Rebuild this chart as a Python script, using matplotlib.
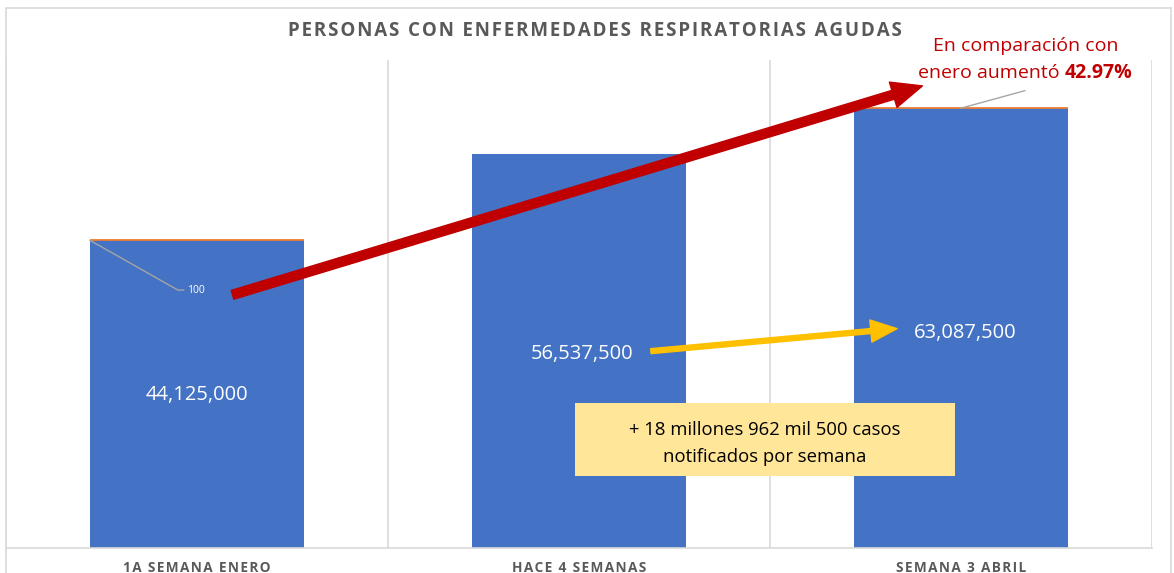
import matplotlib
matplotlib.use("Agg")
import matplotlib.pyplot as plt
from matplotlib.patches import FancyArrowPatch, Rectangle

plt.rcParams['font.family'] = ['Open Sans', 'DejaVu Sans']

categories = ["1A SEMANA ENERO", "HACE 4 SEMANAS", "SEMANA 3 ABRIL"]
cases = [44125000, 56537500, 63087500]
extra = [100, 0, 100]
value_labels = ["44,125,000", "56,537,500", "63,087,500"]
title = "PERSONAS CON ENFERMEDADES RESPIRATORIAS AGUDAS"
increase_pct = "42.97%"

W, H = 1174, 573
fig = plt.figure(figsize=(W / 100, H / 100), dpi=100)
fig.patch.set_facecolor("white")

def fx(px):
    return px / W

def fy(py):
    return 1 - py / H

# outer chart border
fig.patches.append(Rectangle((fx(6), fy(590)), fx(1171) - fx(6), fy(8) - fy(590),
                             transform=fig.transFigure, fill=False,
                             edgecolor="#D9D9D9", lw=1.2))

ax = fig.add_axes([fx(6), fy(548), fx(1152) - fx(6), fy(60) - fy(548)])
x = list(range(len(categories)))
ax.bar(x, cases, width=0.56, color="#4472C4", zorder=2)
ax.bar(x, extra, bottom=cases, width=0.56, color="#ED7D31",
       edgecolor="#ED7D31", linewidth=[1.3 if v else 0 for v in extra], zorder=3)
ax.set_xlim(-0.5, 2.5)
ax.set_ylim(0, 70e6)
ax.set_yticks([])
ax.set_xticks(x)
ax.set_xticklabels(["\u200a".join(c) for c in categories], fontsize=9.8,
                   fontweight="bold", color="#595959")
ax.tick_params(axis="x", length=0, pad=9)
for s in ["top", "left", "right"]:
    ax.spines[s].set_visible(False)
ax.spines["bottom"].set_color("#D9D9D9")
ax.spines["bottom"].set_linewidth(1.2)
for g in [-0.5, 0.5, 1.5, 2.5]:
    ax.axvline(g, color="#D9D9D9", lw=1.2, zorder=1)

# value labels
label_pos = [(0.0, 22.0e6), (1.008, 27.8e6), (2.01, 30.8e6)]
for (lx, ly), t in zip(label_pos, value_labels):
    ax.text(lx, ly, t, color="white", fontsize=14.5, ha="center", va="center", zorder=5)

# "100" label with leader line
ax.plot([-0.28, -0.05, -0.035], [cases[0] + extra[0], 37.0e6, 37.0e6],
        color="#A5A5A5", lw=1, zorder=4)
ax.text(-0.025, 37.0e6, str(extra[0]), color="white", fontsize=7.5,
        ha="left", va="center", zorder=5)
ax.plot([2.0, 2.167], [cases[2] + extra[2], 65.6e6], color="#A5A5A5", lw=1, zorder=4)

# red arrow
red = FancyArrowPatch((0.086, 36.2e6), (1.906, 66.4e6),
                      arrowstyle="simple,head_length=1.1,head_width=0.95,tail_width=0.33",
                      mutation_scale=20, color="#C00000", zorder=6, clip_on=False)
ax.add_patch(red)
# yellow arrow
yel = FancyArrowPatch((1.181, 28.2e6), (1.840, 31.5e6),
                      arrowstyle="simple,head_length=0.95,head_width=0.8,tail_width=0.18",
                      mutation_scale=20, color="#FFC000", zorder=6)
ax.add_patch(yel)

# title
fig.text(fx(595), fy(31), "\u200a".join(title), fontsize=13.5, fontweight="bold",
         color="#595959", ha="center", va="center")

# red annotation
fig.text(fx(1026), fy(46), "En comparación con", fontsize=14, color="#C00000",
         ha="center", va="center")
fig.text(fx(1060), fy(73), "enero aumentó", fontsize=14, color="#C00000",
         ha="right", va="center")
fig.text(fx(1065), fy(73), increase_pct, fontsize=14, color="#C00000",
         fontweight="bold", ha="left", va="center")

# yellow box
fig.patches.append(Rectangle((fx(575), fy(476)), fx(955) - fx(575), fy(403) - fy(476),
                             transform=fig.transFigure, facecolor="#FFE699",
                             edgecolor="none", zorder=7))
fig.text(fx(765), fy(430), "+ 18 millones 962 mil 500 casos", fontsize=13.3,
         color="black", ha="center", va="center", zorder=8)
fig.text(fx(765), fy(457), "notificados por semana", fontsize=13.3,
         color="black", ha="center", va="center", zorder=8)

fig.savefig("out.png", dpi=100)
